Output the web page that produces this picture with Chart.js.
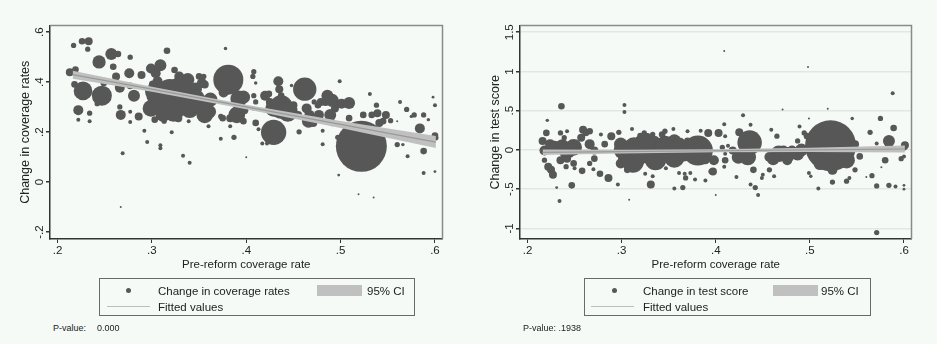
<!DOCTYPE html>
<html>
<head>
<meta charset="utf-8">
<script src="https://cdn.jsdelivr.net/npm/chart.js@4.4.1/dist/chart.umd.min.js"></script>
<style>
  body { margin: 0; width: 937px; height: 344px; overflow: hidden; position: relative;
         background: #f5faf7; font-family: "Liberation Sans", Arial, sans-serif; color: #222; }
  canvas { position: absolute; top: 0; }
  .legend { position: absolute; top: 278px; height: 38px; border: 1px solid #6a6a6a; box-sizing: border-box; }
  .legend span, .pval { position: absolute; white-space: nowrap; line-height: 14px; }
  .legend span { font-size: 11.5px; }
  .dot { width: 5px; height: 5px; border-radius: 50%; background: #575757; position: absolute; }
  .swatch { position: absolute; height: 11px; width: 45px; background: #c0c0c0; }
  .fline { position: absolute; height: 1px; width: 43px; background: #bdbdbd; }
  .pval { font-size: 9px; top: 321px; }
</style>
</head>
<body>

<canvas id="leftChart" width="468" height="280" style="left:0"></canvas>
<canvas id="rightChart" width="467" height="280" style="left:470px"></canvas>

<div class="legend" style="left:99px;width:316px">
  <div class="dot" style="left:26px;top:9px"></div>
  <span style="left:58px;top:5px">Change in coverage rates</span>
  <div class="swatch" style="left:217px;top:6px"></div>
  <span style="left:267px;top:5px">95% CI</span>
  <div class="fline" style="left:7px;top:27px"></div>
  <span style="left:58px;top:21px">Fitted values</span>
</div>
<div class="legend" style="left:584px;width:287px">
  <div class="dot" style="left:27px;top:9px"></div>
  <span style="left:58px;top:5px">Change in test score</span>
  <div class="swatch" style="left:188px;top:6px"></div>
  <span style="left:236px;top:5px">95% CI</span>
  <div class="fline" style="left:6px;top:27px"></div>
  <span style="left:58px;top:21px">Fitted values</span>
</div>
<span class="pval" style="left:53px">P-value:</span>
<span class="pval" style="left:97px">0.000</span>
<span class="pval" style="left:523px">P-value: .1938</span>

<script>
// axis ticks
const xTicks = [0.2, 0.3, 0.4, 0.5, 0.6];
const coverageTicks = [-0.2, 0, 0.2, 0.4, 0.6];
const scoreTicks = [-1, -0.5, 0, 0.5, 1, 1.5];

// left panel: pre-reform coverage, change in coverage, district weight
const coverageX = [
  .217,.226,.233,.232,.213,.219,.218,.227,.222,.222,
  .234,.234,.242,.247,.244,.242,.249,.257,.264,.259,
  .262,.266,.266,.267,.277,.276,.277,.277,.277,.281,
  .286,.289,.292,.295,.299,.304,.306,.301,.309,.316,
  .299,.303,.309,.319,.329,.336,.323,.343,.350,.356,
  .361,.329,.324,.338,.346,.353,.303,.313,.321,.309,
  .309,.269,.267,.333,.340,.328,.339,.350,.355,.356,
  .360,.373,.373,.378,.381,.376,.375,.383,.390,.387,
  .383,.392,.397,.395,.397,.400,.398,.407,.408,.410,
  .408,.410,.407,.410,.413,.417,.422,.420,.424,.425,
  .429,.434,.435,.437,.437,.444,.429,.450,.448,.455,
  .456,.459,.462,.464,.466,.467,.471,.472,.476,.477,
  .479,.481,.481,.484,.486,.491,.494,.489,.491,.499,
  .501,.497,.498,.509,.509,.522,.519,.535,.524,.531,
  .533,.538,.539,.541,.548,.545,.553,.560,.560,.563,
  .566,.570,.571,.575,.578,.584,.588,.588,.588,.593,
  .598,.600,.600,.601,.600,
  .311,.326,.335,.346,.316,.301,.355,.340,.362,.312
];
const coverageY = [
  .547,.564,.564,.532,.440,.451,.391,.365,.288,.250,
  .276,.244,.353,.346,.481,.314,.397,.513,.513,.462,
  .423,.378,.301,.269,.500,.436,.385,.282,.241,.346,
  .263,.429,.205,.160,.455,.436,.404,.391,.468,.526,
  .295,.346,.308,.359,.372,.321,.282,.346,.308,.269,
  .282,.423,.449,.410,.372,.397,.250,.244,.199,.147,
  .135,.115,-.100,.105,.077,.256,.244,.423,.423,.391,
  .224,.263,.173,.535,.410,.359,.256,.256,.269,.179,
  .224,.333,.340,.295,.244,.099,.288,.423,.442,.397,
  .346,.321,.295,.237,.212,.154,.154,.346,.353,.321,
  .295,.404,.372,.346,.301,.282,.199,.308,.387,.269,
  .201,.359,.372,.295,.244,.269,.237,.321,.308,.269,
  .321,.205,.151,.321,.346,.327,.295,.269,.237,.404,
  .314,.179,.028,.317,.256,.143,-.049,-.062,.269,.353,
  .269,.308,.276,.237,.269,.244,.246,.244,.150,.321,
  .150,.291,.103,.263,.269,.215,.269,.124,.036,.250,
  .340,.308,.186,.177,.042,
  .330,.312,.352,.330,.372,.362,.300,.292,.330,.272
];
const coverageW = [
  7,11,16,7,16,11,11,87,25,4,
  7,4,25,100,44,7,11,36,11,11,
  16,25,7,25,7,25,11,4,4,36,
  16,16,4,4,25,25,25,16,36,11,
  69,69,100,178,136,136,100,69,69,69,
  44,25,11,44,44,25,11,7,4,4,
  4,4,1,4,4,16,4,11,7,16,
  4,7,4,3,225,25,11,16,69,7,
  4,69,44,25,11,1,16,7,7,3,
  7,7,4,11,4,4,4,25,11,16,
  69,25,16,11,136,100,160,16,3,16,
  7,3,136,25,44,25,16,7,11,25,
  16,4,4,16,36,44,16,36,11,4,
  25,7,2,36,11,650,1,1,11,4,
  11,7,16,16,16,11,7,1,7,4,
  3,7,4,3,7,25,7,11,4,3,
  2,4,11,7,2,
  150,150,120,100,80,60,80,80,50,60
];

// right panel: pre-reform coverage, change in test score, district weight
const scoreX = [
  .216,.220,.221,.218,.224,.218,.222,.225,.227,.231,
  .234,.236,.229,.237,.242,.235,.239,.242,.235,.242,
  .241,.247,.249,.250,.249,.257,.259,.258,.262,.266,
  .266,.271,.271,.266,.270,.278,.277,.282,.286,.289,
  .297,.296,.303,.303,.299,.303,.299,.306,.308,.311,
  .313,.316,.323,.328,.334,.339,.346,.350,.356,.360,
  .320,.324,.333,.343,.346,.355,.325,.331,.333,.340,
  .347,.356,.361,.365,.366,.370,.367,.368,.370,.373,
  .378,.384,.381,.387,.389,.392,.403,.397,.398,.400,
  .389,.395,.409,.409,.410,.407,.410,.410,.409,.413,
  .418,.422,.425,.429,.424,.436,.434,.437,.437,.442,
  .445,.440,.449,.450,.457,.459,.457,.462,.465,.467,
  .472,.476,.481,.471,.487,.489,.487,.494,.498,.499,
  .497,.499,.501,.509,.522,.519,.511,.524,.539,.545,
  .548,.524,.539,.542,.548,.553,.560,.564,.566,.571,
  .571,.571,.575,.576,.580,.584,.584,.588,.589,.591,
  .597,.600,.600,.601,.600,.600,
  .312,.322,.336,.346,.356,.326,.361,.301,.366,.476,
  .491,.461
];
const scoreY = [
  .115,.217,.377,-.008,.074,-.131,-.213,-.254,-.316,-.480,
  -.652,.557,.033,.053,-.008,.217,.156,.238,-.131,-.111,
  -.213,-.451,-.172,-.234,.033,.156,.258,-.266,.217,.238,
  .074,-.008,-.111,-.172,-.246,.197,-.303,.074,-.357,.176,
  .225,-.439,.574,.484,.074,-.090,-.172,-.254,-.635,.266,
  .033,-.090,.074,-.049,.074,-.008,.074,-.029,.115,-.008,
  .176,.217,.197,.197,.238,.266,-.303,-.439,-.336,-.213,
  -.234,-.492,-.295,-.480,.033,.238,-.303,-.357,.115,-.295,
  -.377,.246,-.008,-.008,-.131,.217,.217,-.275,-.131,-.574,
  -.389,-.275,1.262,.328,.176,.033,-.049,-.131,-.213,.053,
  -.008,-.344,.225,.443,-.090,.094,-.090,.320,-.439,-.480,
  -.574,-.254,-.357,-.316,-.090,.258,-.254,-.336,.176,-.049,
  -.008,-.131,-.008,.516,-.049,.299,.115,.217,1.057,.402,
  .176,-.295,-.336,-.492,.054,.525,-.172,-.254,-.131,.402,
  .074,-.410,-.398,-.357,-.254,-.082,-.344,.225,-.328,.082,
  -.459,-1.053,.402,-.221,-.131,.115,-.451,.721,.279,-.467,
  -.111,.033,-.082,.061,-.451,-.500,
  -.150,.000,-.120,.020,-.100,.120,.060,.000,-.050,-.060,
  .000,-.120
];
const scoreW = [
  16,11,3,25,25,7,16,16,16,2,
  4,11,44,44,69,7,7,4,16,16,
  7,11,11,4,69,16,16,11,11,11,
  25,16,11,7,4,4,11,11,16,16,
  7,4,4,4,44,44,25,11,1,4,
  100,100,100,100,69,69,69,69,44,44,
  11,7,7,11,7,4,4,16,4,4,
  4,4,4,7,25,4,4,7,11,4,
  4,4,225,25,16,16,16,16,25,1,
  4,7,1,4,4,7,4,11,4,4,
  16,4,16,4,44,150,69,4,4,7,
  4,11,4,4,25,4,7,4,7,69,
  25,25,25,1,44,4,7,7,1,1,
  11,4,3,4,650,1,44,25,69,3,
  16,7,7,4,7,11,1,7,7,4,
  7,7,7,1,11,36,7,4,11,4,
  7,11,4,16,2,2,
  120,150,120,120,100,60,60,80,60,60,
  40,36
];

// fitted values and 95% CI read at a few x positions
const fitX = [0.216, 0.3, 0.4, 0.5, 0.601];
const coverageFit = [0.430, 0.372, 0.301, 0.231, 0.160];
const coverageLo = [0.414, 0.362, 0.292, 0.217, 0.136];
const coverageHi = [0.446, 0.382, 0.310, 0.245, 0.184];
const scoreFit = [-0.030, -0.021, -0.010, 0.001, 0.012];
const scoreLo = [-0.066, -0.045, -0.030, -0.025, -0.034];
const scoreHi = [0.006, 0.003, 0.010, 0.027, 0.056];

const FONT = '"Liberation Sans", Arial, sans-serif';

const fmt = (v) => {
  let s = String(Math.round(v * 100) / 100);
  return s.replace(/^0\./, ".").replace(/^-0\./, "-.");
};

const pts = (xs, ys) => xs.map((x, i) => ({ x: x, y: ys[i] }));

// top/right frame and vertical y tick labels, like Stata
const stataFrame = {
  id: "stataFrame",
  afterDraw(chart) {
    const { ctx, chartArea: a } = chart;
    const y = chart.scales.y;
    ctx.save();
    ctx.strokeStyle = "#8a8a8a";
    ctx.lineWidth = 1.5;
    ctx.beginPath();
    ctx.moveTo(a.left, a.top);
    ctx.lineTo(a.right, a.top);
    ctx.lineTo(a.right, a.bottom);
    ctx.stroke();
    ctx.fillStyle = "#222";
    ctx.font = "11.5px " + FONT;
    ctx.textAlign = "center";
    ctx.textBaseline = "middle";
    y.ticks.forEach((t) => {
      ctx.save();
      ctx.translate(40, y.getPixelForValue(t.value));
      ctx.rotate(-Math.PI / 2);
      ctx.fillText(fmt(t.value), 0, 0);
      ctx.restore();
    });
    ctx.restore();
  },
};

const makePanel = (id, xs, ys, ws, fit, lo, hi, yMin, yMax, yTicks, yTitle, grid) => {
  return new Chart(document.getElementById(id), {
    type: "scatter",
    data: {
      datasets: [
        { type: "line", data: pts(fitX, hi), fill: "+1", backgroundColor: "#c0c0c0",
          borderWidth: 0, pointRadius: 0, order: 1 },
        { type: "line", data: pts(fitX, lo), fill: false, borderWidth: 0, pointRadius: 0, order: 2 },
        { type: "line", data: pts(fitX, fit), fill: false, borderColor: "#999999",
          borderWidth: 1.2, pointRadius: 0, order: 0 },
        { data: pts(xs, ys), backgroundColor: "#575757", borderWidth: 0,
          pointRadius: (ctx) => Math.sqrt(ws[ctx.dataIndex]), order: 3 },
      ],
    },
    options: {
      responsive: false,
      animation: false,
      layout: { padding: { top: 17, right: 5, left: 0, bottom: 0 } },
      plugins: { legend: { display: false }, tooltip: { enabled: false } },
      scales: {
        x: {
          type: "linear",
          min: 0.192,
          max: 0.608,
          afterBuildTicks: (s) => { s.ticks = xTicks.map((v) => ({ value: v })); },
          afterFit: (s) => { s.height = 41; },
          border: { color: "#333", width: 1.5 },
          grid: { drawOnChartArea: false, tickLength: 4, tickColor: "#333" },
          ticks: { color: "#222", font: { family: FONT, size: 11.5 }, padding: 1, maxRotation: 0,
                   callback: (v) => fmt(v) },
          title: { display: true, text: "Pre-reform coverage rate", color: "#222",
                   font: { family: FONT, size: 11.5 }, padding: { top: 0, bottom: 8 } },
        },
        y: {
          min: yMin,
          max: yMax,
          afterBuildTicks: (s) => { s.ticks = yTicks.map((v) => ({ value: v })); },
          afterFit: (s) => { s.width = 50; },
          border: { color: "#333", width: 1.5 },
          grid: { drawOnChartArea: grid, color: "#e4e6e5", lineWidth: 1.5, tickLength: 4, tickColor: "#333" },
          ticks: { display: false },
          title: { display: true, text: yTitle, color: "#222",
                   font: { family: FONT, size: 12.5 }, padding: { top: 18, bottom: 0 } },
        },
      },
    },
    plugins: [stataFrame],
  });
};

makePanel("leftChart", coverageX, coverageY, coverageW, coverageFit, coverageLo, coverageHi,
  -0.228, 0.627, coverageTicks, "Change in coverage rates", false);
makePanel("rightChart", scoreX, scoreY, scoreW, scoreFit, scoreLo, scoreHi,
  -1.135, 1.586, scoreTicks, "Change in test score", true);
</script>
</body>
</html>
